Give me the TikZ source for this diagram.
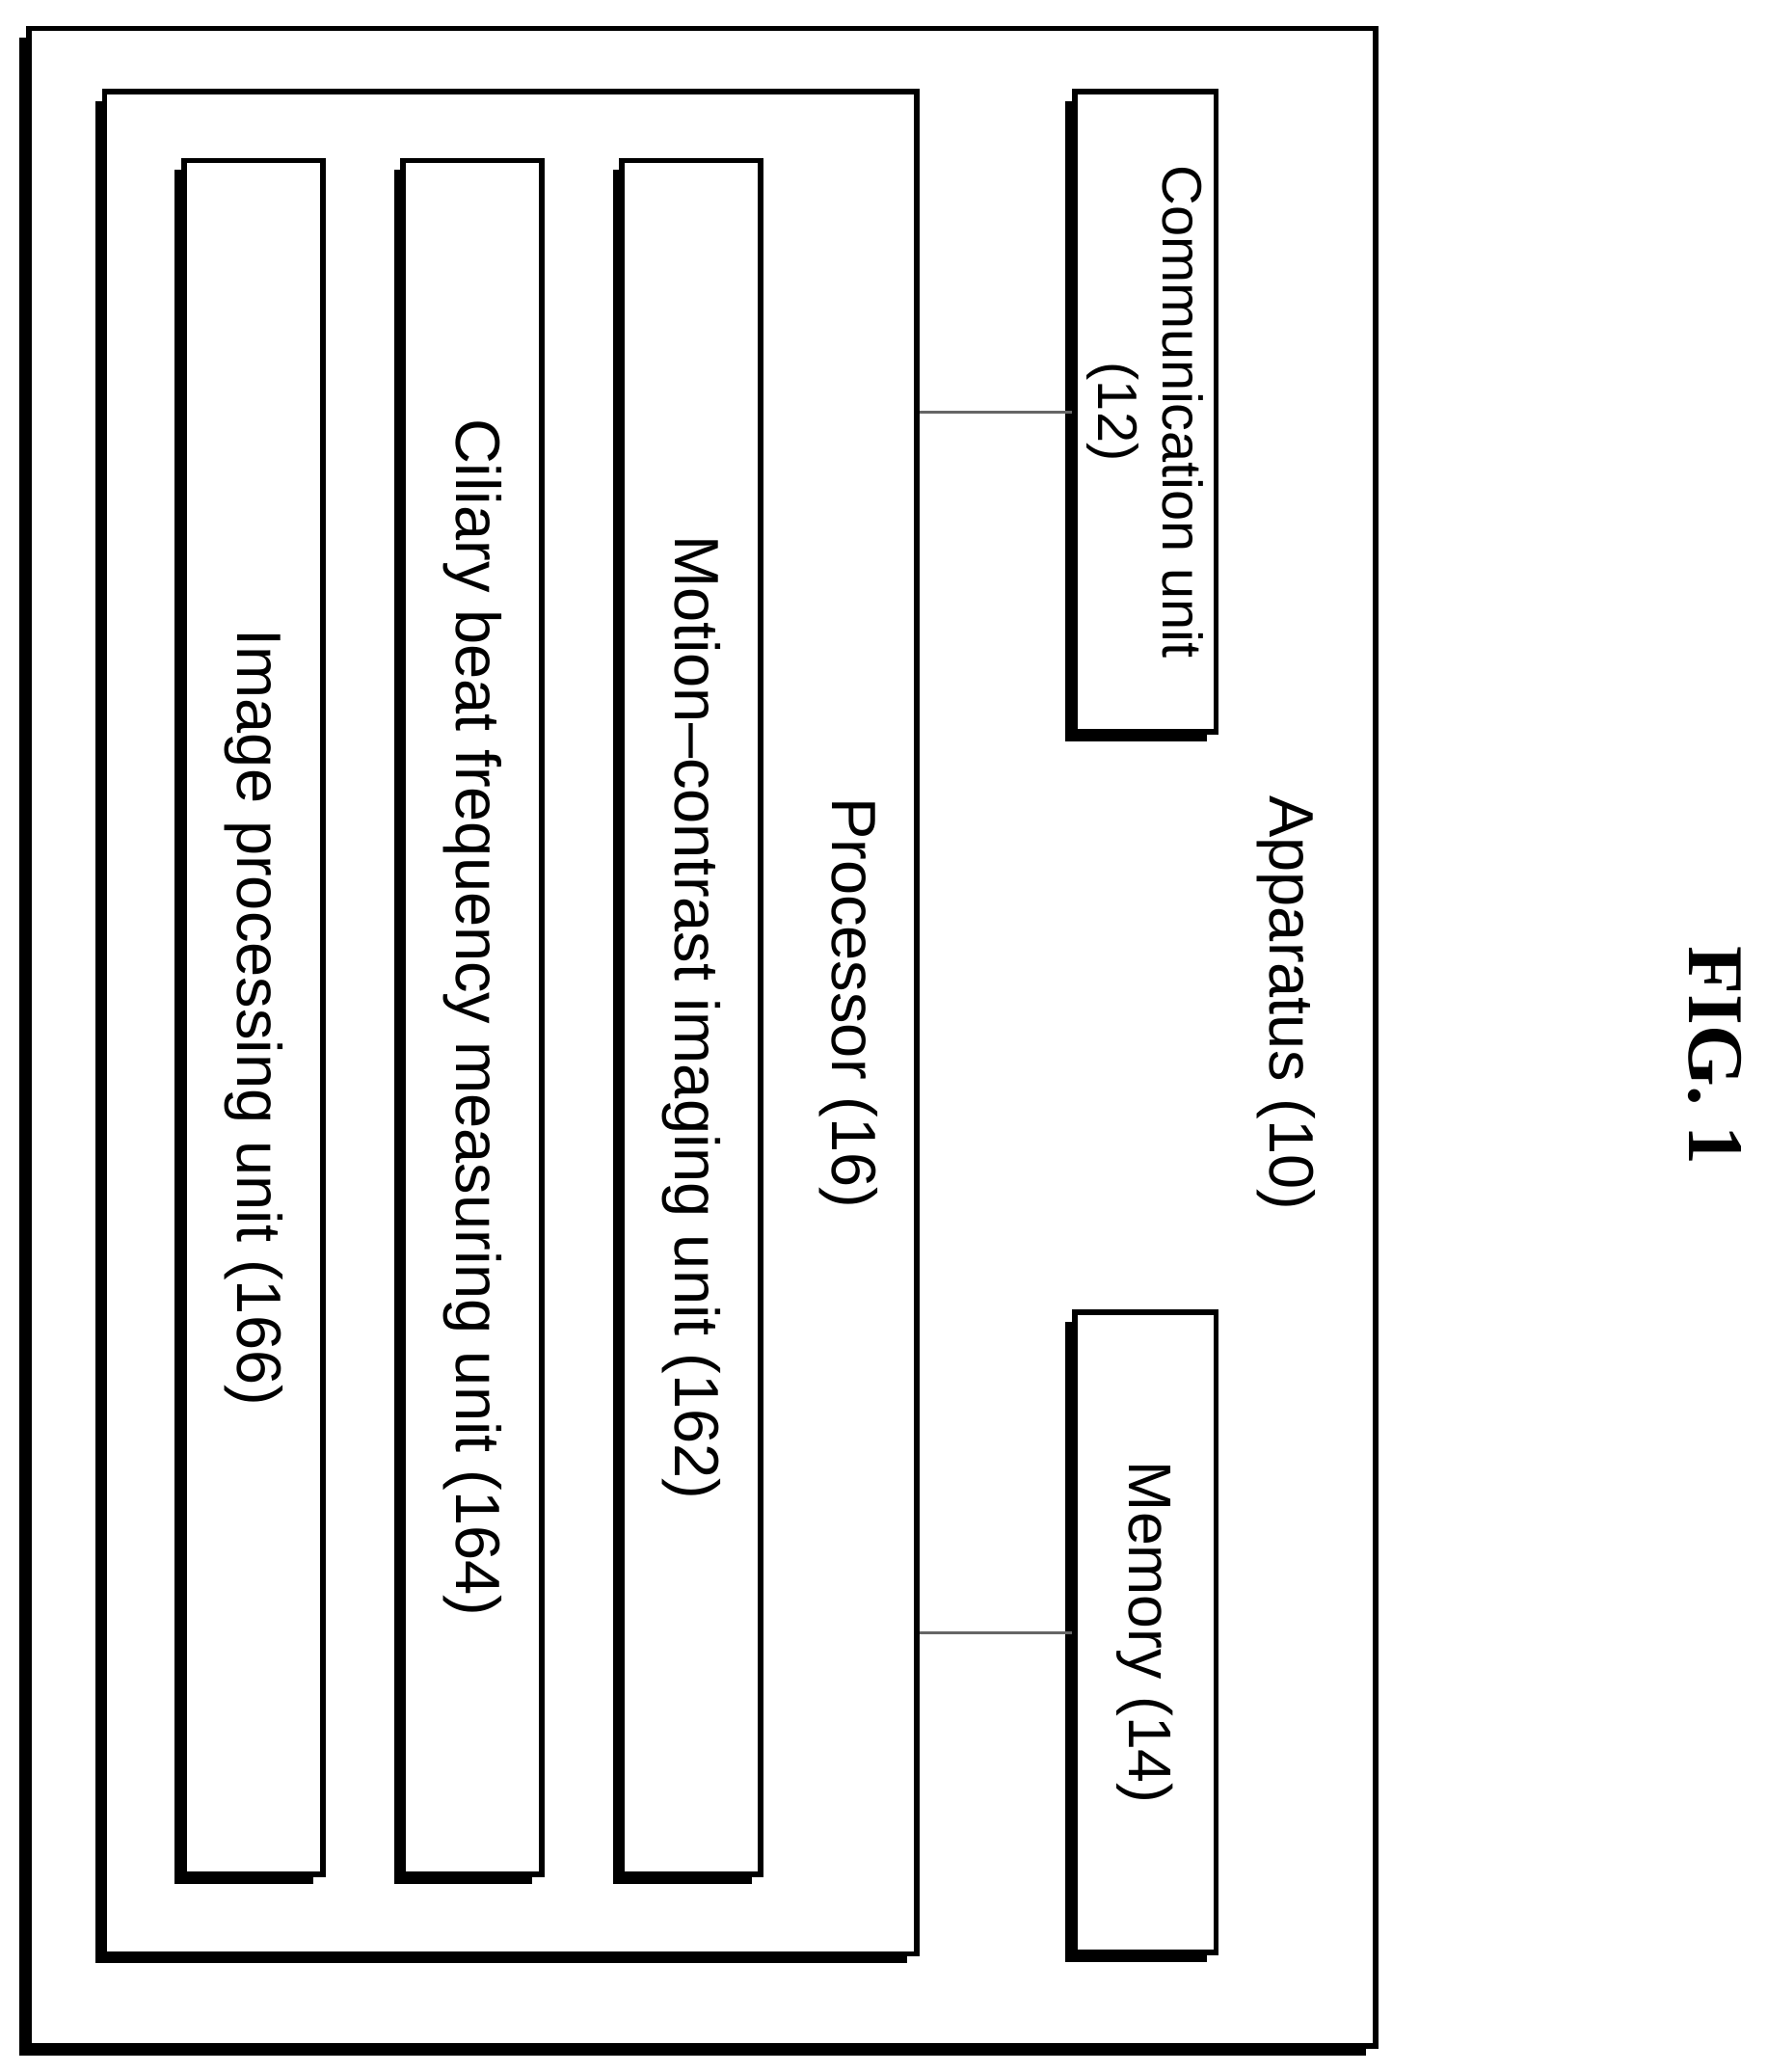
\documentclass[tikz,border=0pt]{standalone}
\usepackage{fontspec}
\setmainfont{Liberation Sans}
\newfontfamily\figfont{Liberation Serif}
\tikzset{
  unitbox/.style={draw, line width=1.2pt, fill=white, rotate=-90,
    font=\fontsize{13.5}{16}\selectfont,
    preaction={fill=black, transform canvas={shift={(-7,7)}}}},
  smallbox/.style={unitbox, inner sep=1pt},
  label/.style={rotate=-90, align=center, font=\fontsize{13.5}{16}\selectfont},
  link/.style={draw=black!60, line width=0.6pt}
}
\begin{document}
\begin{tikzpicture}[x=0.01cm, y=-0.01cm]
\useasboundingbox (0,0) rectangle (1339,1570);

% apparatus frame
\node[unitbox, minimum width=15.28cm, minimum height=10.2cm] (app) at (532,786) {};
\node[label] (applabel) at (975,760) {Apparatus (10)};

% processor and its units
\node[unitbox, minimum width=14.1cm, minimum height=6.15cm] (proc) at (387,775) {};
\node[label] (proclabel) at (643,760) {Processor (16)};
\node[unitbox, minimum width=12.98cm, minimum height=1.05cm] (mci) at (524,771) {Motion--contrast imaging unit (162)};
\node[unitbox, minimum width=12.98cm, minimum height=1.05cm] (cbf) at (358,771) {Ciliary beat frequency measuring unit (164)};
\node[unitbox, minimum width=12.98cm, minimum height=1.05cm] (ipu) at (192,771) {Image processing unit (166)};

% communication and memory
\node[smallbox, minimum width=4.85cm, minimum height=1.07cm, align=center, font=\fontsize{12}{14}\selectfont] (comm) at (868,312) {Communication unit\\(12)};
\node[smallbox, minimum width=4.85cm, minimum height=1.07cm, font=\fontsize{13}{16}\selectfont] (mem) at (868,1237) {Memory (14)};

\draw[link] (comm.south) -- (comm.south -| proc.north);
\draw[link] (mem.south) -- (mem.south -| proc.north);

\node[rotate=-90, font=\figfont\bfseries\fontsize{17}{20}\selectfont] (fig) at (1300,800) {FIG. 1};
\end{tikzpicture}
\end{document}
